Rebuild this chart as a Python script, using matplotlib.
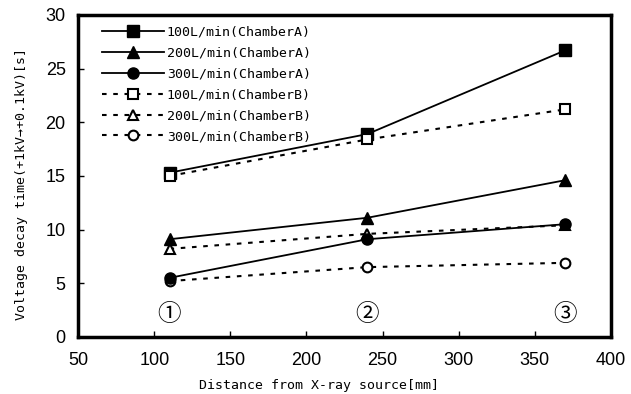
import numpy as np
import matplotlib
matplotlib.use("Agg")
import matplotlib.pyplot as plt

# distances from X-ray source [mm]
x = [110, 240, 370]

# voltage decay time [s]
a100 = [15.3, 18.9, 26.7]
a200 = [9.1, 11.1, 14.6]
a300 = [5.5, 9.1, 10.5]
b100 = [15.0, 18.4, 21.2]
b200 = [8.2, 9.6, 10.4]
b300 = [5.2, 6.5, 6.9]

pos_labels = ["①", "②", "③"]

mono = ["DejaVu Sans Mono", "Noto Sans CJK JP"]
narrow = ["Liberation Sans Narrow", "Liberation Sans"]

fig = plt.figure(figsize=(6.31, 3.94), dpi=100)
ax = fig.add_axes([0.124, 0.145, 0.844, 0.817])

dash = (0, (2.2, 3.2))
ax.plot(x, a100, color="black", lw=1.3, marker="s", ms=8, label="100L/min(ChamberA)")
ax.plot(x, a200, color="black", lw=1.3, marker="^", ms=8, label="200L/min(ChamberA)")
ax.plot(x, b100, color="black", lw=1.5, ls=dash, marker="s", ms=7, mfc="white", mew=1.5, label="100L/min(ChamberB)")
ax.plot(x, b200, color="black", lw=1.5, ls=dash, marker="^", ms=7, mfc="white", mew=1.5, label="200L/min(ChamberB)")
ax.plot(x, b300, color="black", lw=1.5, ls=dash, marker="o", ms=7, mfc="white", mew=1.5, label="300L/min(ChamberB)")
ax.plot(x, a300, color="black", lw=1.3, marker="o", ms=8, label="300L/min(ChamberA)")

for xi, s in zip(x, pos_labels):
    ax.text(xi, 2.1, s, ha="center", va="center", fontsize=17, family=["Noto Sans CJK JP", "DejaVu Sans"])

ax.set_xlim(50, 400)
ax.set_ylim(0, 30)
ax.set_xticks(np.arange(50, 401, 50))
ax.set_yticks(np.arange(0, 31, 5))
ax.tick_params(axis="x", direction="in", length=4, width=1, labelsize=13, pad=11)
ax.tick_params(axis="y", direction="in", length=4, width=1, labelsize=13, pad=9)
for lab in ax.get_xticklabels() + ax.get_yticklabels():
    lab.set_family(narrow)
for sp in ax.spines.values():
    sp.set_linewidth(2.5)

ax.set_xlabel("Distance from X-ray source[mm]", family=mono, fontsize=9.5)
ax.set_ylabel("Voltage decay time(+1kV→+0.1kV)[s]", family=mono, fontsize=9.5)
ax.xaxis.set_label_coords(0.452, -0.13)
ax.yaxis.set_label_coords(-0.095, 0.474)

h, l = ax.get_legend_handles_labels()
order = [0, 1, 5, 2, 3, 4]
leg = ax.legend([h[i] for i in order], [l[i] for i in order], loc="upper left",
                frameon=False, handlelength=4.7, handletextpad=0.2,
                labelspacing=0.6, borderaxespad=0.4, bbox_to_anchor=(0.025, 1.0),
                prop={"family": mono, "size": 9.5})

fig.savefig("out.png", dpi=100)
